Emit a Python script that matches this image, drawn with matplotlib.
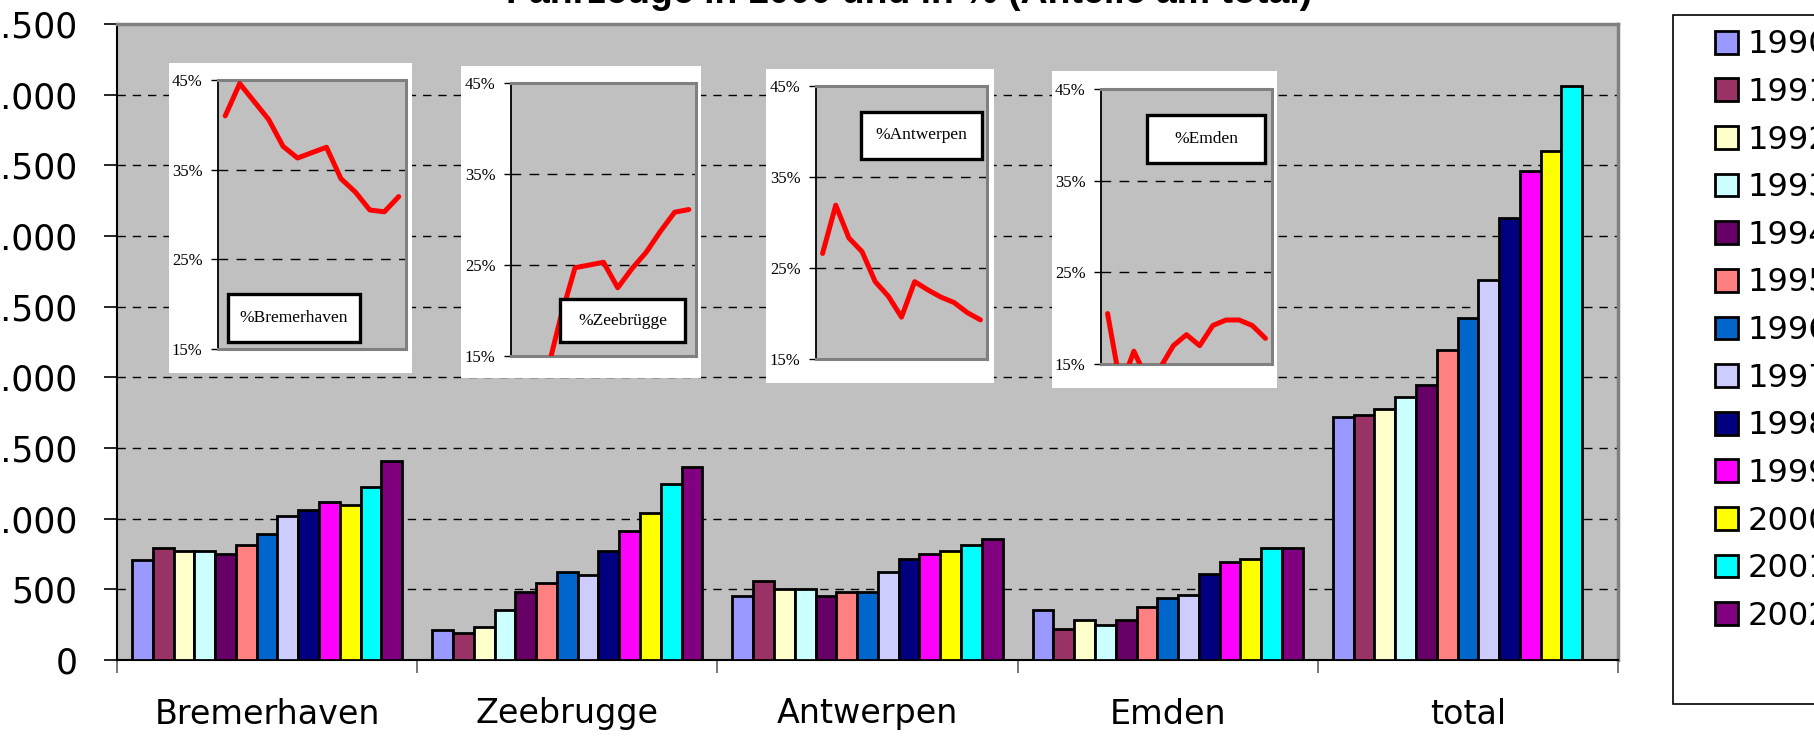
import numpy as np
import matplotlib.pyplot as plt
from matplotlib.patches import Rectangle, Patch

plt.rcParams['font.family'] = ['DejaVu Sans']

ports = ["Bremerhaven", "Zeebrugge", "Antwerpen", "Emden", "total"]
years = [str(y) for y in range(1990, 2003)]
colors = ["#9999FF", "#993366", "#FFFFCC", "#CCFFFF", "#660066", "#FF8080",
          "#0066CC", "#CCCCFF", "#000080", "#FF00FF", "#FFFF00", "#00FFFF", "#800080"]

# values per port, one entry per year 1990..2002
bremerhaven = [707, 791, 768, 768, 753, 814, 894, 1019, 1059, 1120, 1096, 1225, 1411]
zeebrugge = [212, 191, 230, 357, 484, 542, 624, 603, 772, 913, 1037, 1242, 1366]
antwerpen = [455, 561, 500, 500, 455, 479, 479, 622, 712, 750, 774, 814, 854]
emden = [355, 217, 282, 247, 285, 375, 440, 460, 607, 690, 713, 791, 791]
total = [1717, 1737, 1779, 1863, 1947, 2193, 2417, 2692, 3126, 3459, 3602, 4061, np.nan]

# shares in % for the small charts
share_bremerhaven = [41.0, 44.6, 42.6, 40.6, 37.6, 36.3, 36.9, 37.5, 34.0, 32.5, 30.5, 30.3, 32.0]
share_zeebrugge = [12.4, 11.0, 13.0, 19.3, 24.7, 25.0, 25.3, 22.5, 24.6, 26.4, 28.7, 30.8, 31.1]
share_antwerpen = [26.6, 31.9, 28.3, 26.8, 23.5, 21.9, 19.6, 23.5, 22.6, 21.8, 21.2, 20.1, 19.3]
share_emden = [20.5, 12.5, 16.4, 13.3, 14.6, 17.0, 18.2, 17.0, 19.2, 19.8, 19.8, 19.2, 17.8]

title = "Fahrzeuge in 1000 und in % (Anteile am total)"

W, H = 1814, 736
fig = plt.figure(figsize=(W / 100, H / 100), dpi=100)


def frac(x0, y0, x1, y1):
    return [x0 / W, 1 - y1 / H, (x1 - x0) / W, (y1 - y0) / H]


ax = fig.add_axes(frac(117, 24, 1618, 660))
ax.set_facecolor("#C0C0C0")

data = np.array([bremerhaven, zeebrugge, antwerpen, emden, total], dtype=float)
n = len(years)
w = 0.9 / n
x = np.arange(len(ports))
for j in range(n):
    ax.bar(x + (j - (n - 1) / 2) * w, data[:, j], width=w, color=colors[j],
           edgecolor="black", linewidth=2, zorder=3)

ax.set_xlim(-0.5, len(ports) - 0.5)
ax.set_ylim(0, 4500)
ax.set_yticks(np.arange(0, 4501, 500))
ax.set_yticklabels([f"{v:,}".replace(",", ".") for v in range(0, 4501, 500)])
ax.set_xticks(x)
ax.set_xticklabels(ports)
ax.set_xticks(np.arange(-0.5, len(ports)), minor=True)
ax.tick_params(axis="x", which="major", length=0, pad=27, labelsize=24)
ax.tick_params(axis="x", which="minor", length=9, width=1.2, color="#606060")
ax.tick_params(axis="y", length=9.5, width=1.2, pad=19, labelsize=25)
ax.grid(axis="y", color="black", linestyle=(0, (6, 5)), linewidth=1, zorder=1)
ax.set_axisbelow(True)
for s in ["top", "right"]:
    ax.spines[s].set_color("#808080")
    ax.spines[s].set_linewidth(2.5)
ax.spines["left"].set_linewidth(1.5)
ax.spines["bottom"].set_linewidth(1.5)

fig.text(0.501, 1 - 3 / H, title, ha="center", va="baseline", fontsize=27,
         fontweight="bold", family=["Liberation Sans"])

# small share charts
insets = [
    ("%Bremerhaven", share_bremerhaven, (169, 63, 412, 373), (218, 80, 406, 349), (0.053, 0.026, 0.755, 0.204)),
    ("%Zeebrügge", share_zeebrugge, (461, 66, 701, 378), (511, 83, 696, 356), (0.265, 0.051, 0.941, 0.209)),
    ("%Antwerpen", share_antwerpen, (766, 69, 994, 383), (816, 86, 987, 359), (0.263, 0.733, 0.971, 0.905)),
    ("%Emden", share_emden, (1052, 71, 1277, 388), (1101, 89, 1272, 364), (0.269, 0.731, 0.959, 0.905)),
]
for label, share, wbox, pbox, tbox in insets:
    bg = fig.add_axes(frac(*wbox))
    bg.set_facecolor("white")
    bg.set_xticks([])
    bg.set_yticks([])
    for s in bg.spines.values():
        s.set_visible(False)
    ia = fig.add_axes(frac(*pbox))
    ia.set_facecolor("#C0C0C0")
    ia.plot(range(n), share, color="red", linewidth=3.6,
            solid_joinstyle="round", solid_capstyle="round", zorder=3)
    ia.set_xlim(-0.5, n - 0.5)
    ia.set_ylim(15, 45)
    ia.set_xticks([])
    ia.set_yticks([15, 25, 35, 45])
    ia.set_yticklabels(["15%", "25%", "35%", "45%"], family=["Liberation Serif"])
    ia.tick_params(axis="y", length=5, width=1, pad=6, labelsize=12)
    ia.grid(axis="y", color="black", linestyle=(0, (7, 6)), linewidth=1, zorder=1)
    for s in ["top", "right", "bottom"]:
        ia.spines[s].set_color("#808080")
        ia.spines[s].set_linewidth(2.2)
    ia.spines["left"].set_linewidth(1.3)
    x0, y0, x1, y1 = tbox
    ia.add_patch(Rectangle((x0, y0), x1 - x0, y1 - y0, transform=ia.transAxes,
                           facecolor="white", edgecolor="black", linewidth=2.4,
                           zorder=5, clip_on=False))
    ia.text((x0 + x1) / 2, (y0 + y1) / 2, label, transform=ia.transAxes,
            ha="center", va="center", fontsize=12.5, family=["Liberation Serif"], zorder=6)

# legend
fig.add_artist(Rectangle((1673 / W, 1 - 704 / H), 0.2, (704 - 15) / H,
                         transform=fig.transFigure, facecolor="white",
                         edgecolor="black", linewidth=1.2, zorder=1))
handles = [Patch(facecolor=c, edgecolor="black", linewidth=2) for c in colors]
fig.legend(handles, years, loc="upper left", bbox_to_anchor=(1709 / W, 1 - 23 / H),
           frameon=False, fontsize=23, handlelength=0.72, handleheight=0.72,
           handletextpad=0.28, borderpad=0.2, borderaxespad=0, labelspacing=0.52)

fig.savefig("out.png", dpi=100)
